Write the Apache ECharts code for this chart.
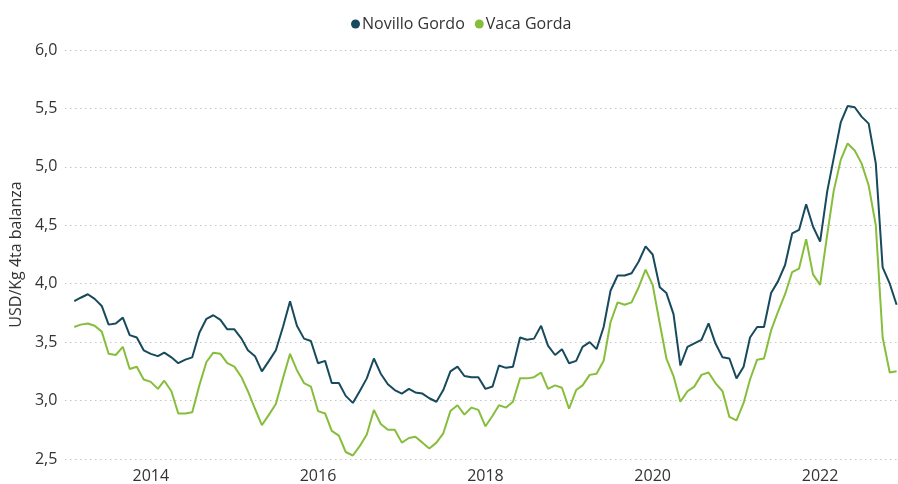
<!DOCTYPE html>
<html>
<head>
<meta charset="utf-8">
<script src="https://cdn.jsdelivr.net/npm/echarts@6/dist/echarts.min.js"></script>
<style>
html,body{margin:0;padding:0;background:#fff;}
#chart{width:898px;height:484px;}
</style>
</head>
<body>
<div id="chart"></div>
<script>
// Monthly series, Feb 2013 .. Dec 2022
const startYear = 2013;
const startMonth = 2;
const novilloGordo = [
  3.85,3.88,3.91,3.87,3.81,3.65,3.66,3.71,3.56,3.54,3.43,
  3.40,3.38,3.41,3.37,3.32,3.35,3.37,3.58,3.70,3.73,3.69,3.61,
  3.61,3.53,3.43,3.38,3.25,3.34,3.43,3.63,3.85,3.64,3.53,3.51,
  3.32,3.34,3.15,3.15,3.04,2.98,3.08,3.19,3.36,3.23,3.14,3.09,
  3.06,3.10,3.07,3.06,3.02,2.99,3.09,3.25,3.29,3.21,3.20,3.20,
  3.10,3.12,3.30,3.28,3.29,3.54,3.52,3.53,3.64,3.47,3.39,3.44,
  3.32,3.34,3.46,3.50,3.44,3.63,3.94,4.07,4.07,4.09,4.19,4.32,
  4.25,3.97,3.92,3.74,3.30,3.46,3.49,3.52,3.66,3.49,3.37,3.36,
  3.19,3.29,3.54,3.63,3.63,3.92,4.02,4.16,4.43,4.46,4.68,4.49,
  4.36,4.79,5.07,5.38,5.52,5.51,5.43,5.37,5.03,4.14,4.00,3.82
];
const vacaGorda = [
  3.63,3.65,3.66,3.64,3.59,3.40,3.39,3.46,3.27,3.29,3.18,
  3.16,3.10,3.17,3.08,2.89,2.89,2.90,3.13,3.33,3.41,3.40,3.32,
  3.29,3.20,3.08,2.93,2.79,2.88,2.97,3.19,3.40,3.26,3.15,3.12,
  2.91,2.89,2.74,2.70,2.56,2.53,2.61,2.71,2.92,2.80,2.75,2.75,
  2.64,2.68,2.69,2.64,2.59,2.64,2.72,2.91,2.96,2.88,2.94,2.92,
  2.78,2.87,2.96,2.94,2.99,3.19,3.19,3.20,3.24,3.10,3.13,3.11,
  2.93,3.09,3.13,3.22,3.23,3.34,3.67,3.84,3.82,3.84,3.97,4.12,
  3.99,3.66,3.36,3.21,2.99,3.08,3.12,3.22,3.24,3.15,3.08,2.86,
  2.83,2.98,3.18,3.35,3.36,3.60,3.76,3.91,4.10,4.13,4.38,4.08,
  3.99,4.42,4.79,5.06,5.20,5.14,5.03,4.84,4.50,3.54,3.24,3.25
];
const seriesNames = ['Novillo Gordo', 'Vaca Gorda'];
const yearLabels = [2014, 2016, 2018, 2020, 2022];
const yTitle = 'USD/Kg 4ta balanza';

// month start timestamps for each data point
const monthTimes = novilloGordo.map((_, i) => new Date(startYear, startMonth - 1 + i, 1).getTime());
const toPairs = arr => arr.map((v, i) => [monthTimes[i], v]);

const FONT = 'Open Sans';
const chart = echarts.init(document.getElementById('chart'), null, {renderer: 'canvas'});
chart.setOption({
  animation: false,
  textStyle: {fontFamily: FONT},
  color: ['#174A5C', '#86BE3C'],
  legend: {
    data: seriesNames,
    top: 11,
    left: 346,
    icon: 'circle',
    itemWidth: 9,
    itemHeight: 9,
    itemGap: 10,
    textStyle: {fontFamily: FONT, fontSize: 16, color: '#333', padding: [0, 0, 0, -3]}
  },
  grid: {left: 65, right: 0, top: 50, bottom: 22, containLabel: false},
  xAxis: {
    type: 'value',
    min: new Date(2012, 11, 24).getTime(),
    max: new Date(2022, 11, 7).getTime(),
    scale: true,
    axisLine: {show: false},
    axisTick: {show: false},
    splitLine: {show: false},
    axisLabel: {
      customValues: yearLabels.map(y => new Date(y, 0, 1).getTime()),
      formatter: v => String(new Date(v).getFullYear()),
      fontFamily: FONT,
      fontSize: 16,
      color: '#333',
      margin: 9,
      showMinLabel: true,
      showMaxLabel: true
    }
  },
  yAxis: {
    type: 'value',
    min: 2.5,
    max: 6,
    interval: 0.5,
    name: yTitle,
    nameLocation: 'middle',
    nameGap: 37,
    nameTextStyle: {fontFamily: FONT, fontSize: 16, color: '#333'},
    axisLine: {show: false},
    axisTick: {show: false},
    axisLabel: {
      formatter: v => v.toFixed(1).replace('.', ','),
      fontFamily: FONT,
      fontSize: 16,
      color: '#333',
      margin: 8
    },
    splitLine: {lineStyle: {type: [1, 4], color: '#a8a8a8', width: 1}}
  },
  series: [
    {name: seriesNames[0], type: 'line', data: toPairs(novilloGordo), showSymbol: false, symbol: 'circle', lineStyle: {width: 2}},
    {name: seriesNames[1], type: 'line', data: toPairs(vacaGorda), showSymbol: false, symbol: 'circle', lineStyle: {width: 2}}
  ]
});
</script>
</body>
</html>
